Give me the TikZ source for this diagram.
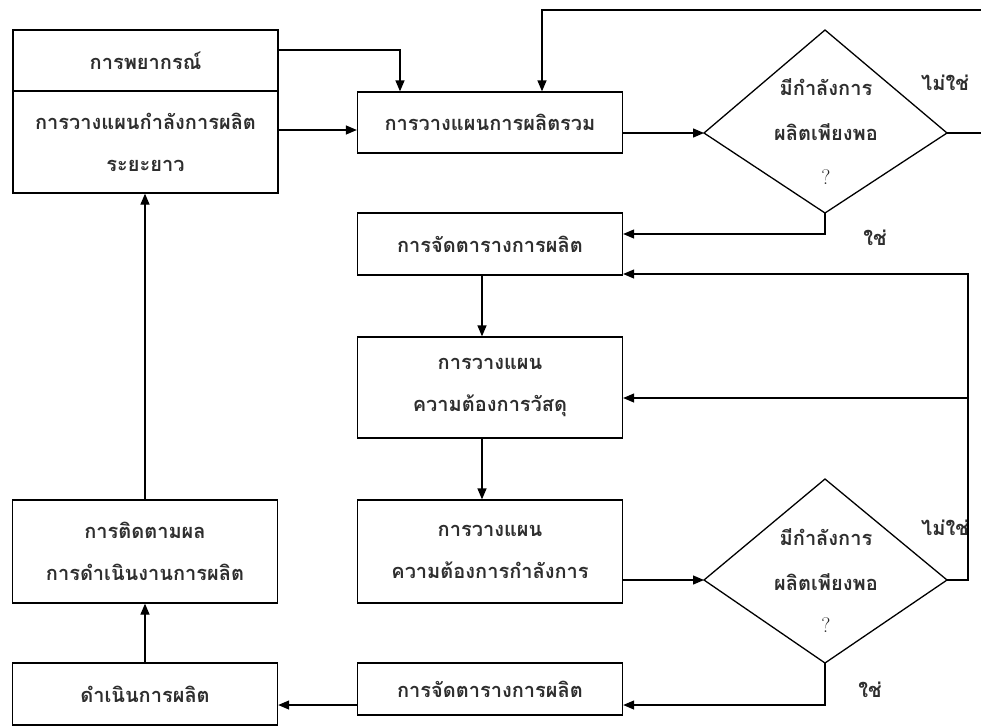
\documentclass[tikz,border=0pt]{standalone}
\usepackage{fontspec}
\newfontfamily\thai[Script=Thai]{Loma}
\usetikzlibrary{arrows.meta}
\begin{document}
\begin{tikzpicture}[x=1pt,y=-1pt,
  box/.style={draw,line width=1.3pt,minimum width=265pt,inner sep=0pt,align=center,
    font=\thai\bfseries\fontsize{20}{42}\selectfont,text=black!82},
  arr/.style={line width=1.3pt,-{Triangle[length=11pt,width=9pt]}},
  ln/.style={line width=1.3pt},
  txt/.style={font=\thai\bfseries\fontsize{20}{22}\selectfont,text=black!82,inner sep=0pt},
  qm/.style={font=\fontsize{21}{24}\selectfont,text=black!85,inner sep=0pt}]
\useasboundingbox (0,0) rectangle (981,726);
% boxes
\node[box,minimum height=61pt] (A1) at (145.5,60.5) {การพยากรณ์};
\node[box,minimum height=102pt] (A2) at (145.5,142) {การวางแผนกำลังการผลิต\\ระยะยาว};
\node[box,minimum height=61pt] (B) at (490,122.5) {การวางแผนการผลิตรวม};
\node[box,minimum height=62pt] (C) at (490,244) {การจัดตารางการผลิต};
\node[box,minimum height=101pt] (D) at (490,387.5) {การวางแผน\\ความต้องการวัสดุ};
\node[box,minimum height=103pt] (E) at (490,551.5) {การวางแผน\\ความต้องการกำลังการ};
\node[box,minimum height=52pt] (F) at (490,689) {การจัดตารางการผลิต};
\node[box,minimum height=103pt] (H) at (145,551.5) {การติดตามผล\\การดำเนินงานการผลิต};
\node[box,minimum height=62pt] (G) at (145,694) {ดำเนินการผลิต};
% decision 1
\coordinate (d1t) at (825,30);
\coordinate (d1l) at (704,133);
\coordinate (d1r) at (947,133);
\coordinate (d1b) at (825,213);
\draw[ln] (d1t) -- (d1r) -- (d1b) -- (d1l) -- cycle;
\node[txt] (q1a) at (826,87) {มีกำลังการ};
\node[txt] (q1b) at (826,132) {ผลิตเพียงพอ};
\node[qm] (q1c) at (826,177) {?};
% decision 2
\coordinate (d2t) at (825,479);
\coordinate (d2l) at (704,580);
\coordinate (d2r) at (947,580);
\coordinate (d2b) at (825,663);
\draw[ln] (d2t) -- (d2r) -- (d2b) -- (d2l) -- cycle;
\node[txt] (q2a) at (826,537) {มีกำลังการ};
\node[txt] (q2b) at (826,582) {ผลิตเพียงพอ};
\node[qm] (q2c) at (826,625) {?};
% labels
\node[txt] (no1) at (945,83) {ไม่ใช่};
\node[txt] (yes1) at (875,238) {ใช่};
\node[txt] (no2) at (945,528) {ไม่ใช่};
\node[txt] (yes2) at (870,690) {ใช่};
% connectors
\coordinate (rt1) at (983,133);
\coordinate (rt2) at (983,10);
\coordinate (tp) at (542,10);
\coordinate (rv1) at (968,580);
\coordinate (rv2) at (968,274);
\coordinate (rv3) at (968,398);
\draw[arr] (A1.east |- 0,50) -| (B.north -| 400,0);
\draw[arr] (A2.east |- 0,130) -- (B.west |- 0,130);
\draw[arr] (B.east |- 0,133) -- (d1l);
\draw[arr] (d1r) -- (rt1) -- (rt2) -- (tp) -- (B.north -| tp);
\draw[arr] (d1b) |- (C.east |- 0,234);
\draw[arr] (C.south -| 482,0) -- (D.north -| 482,0);
\draw[arr] (D.south -| 482,0) -- (E.north -| 482,0);
\draw[arr] (E.east |- 0,580) -- (d2l);
\draw[arr] (d2r) -- (rv1) -- (rv2) -- (C.east |- rv2);
\draw[arr] (rv3) -- (D.east |- rv3);
\draw[arr] (d2b) |- (F.east |- 0,705);
\draw[arr] (F.west |- 0,705) -- (G.east |- 0,705);
\draw[arr] (G.north) -- (H.south);
\draw[arr] (H.north) -- (A2.south -| H.north);
\end{tikzpicture}
\end{document}
